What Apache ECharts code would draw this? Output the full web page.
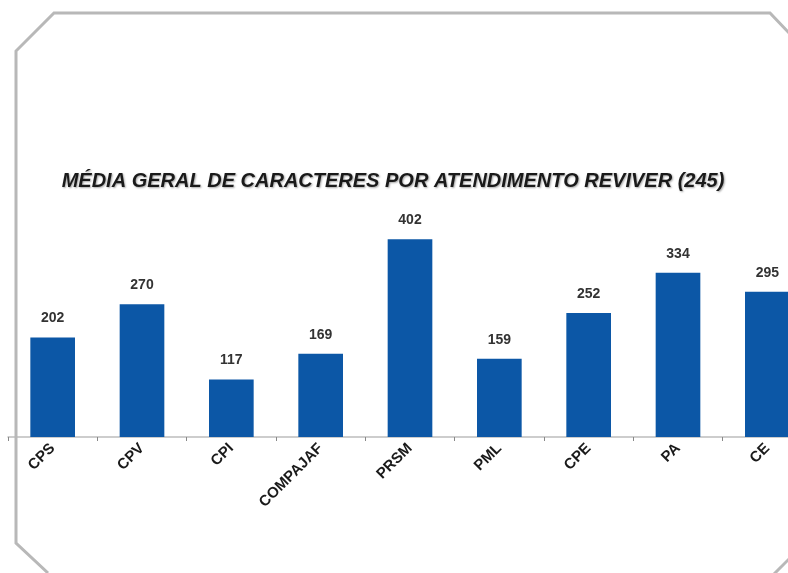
<!DOCTYPE html>
<html><head><meta charset="utf-8">
<script src="https://cdn.jsdelivr.net/npm/echarts@6/dist/echarts.min.js"></script>
<style>html,body{margin:0;padding:0;background:#fff}#c{width:788px;height:573px}</style>
</head><body><div id="c"></div>
<script>
const titleText = 'MÉDIA GERAL DE CARACTERES POR ATENDIMENTO REVIVER (245)';
const categories = ['CPS','CPV','CPI','COMPAJAF','PRSM','PML','CPE','PA','CE'];
const values = [202,270,117,169,402,159,252,334,295];

const chart = echarts.init(document.getElementById('c'), null, {renderer:'canvas'});
chart.setOption({
  animation:false,
  backgroundColor:'#fff',
  title:{
    text:titleText, left:388, top:166, textAlign:'center',
    textStyle:{fontFamily:'Liberation Sans', fontWeight:'bold', fontStyle:'italic', fontSize:20, color:'#1a1a1a',
      textShadowColor:'rgba(0,0,0,0.35)', textShadowBlur:2, textShadowOffsetX:1, textShadowOffsetY:1}
  },
  graphic:[{
    type:'polyline', silent:true, z:100,
    shape:{points:[[48,573],[16,543],[16,51],[54,13],[770,13],[790,34]]},
    style:{stroke:'#b8b8b8', lineWidth:3, fill:null}
  },{
    type:'polyline', silent:true, z:100,
    shape:{points:[[790,558],[774,574]]},
    style:{stroke:'#b8b8b8', lineWidth:3, fill:null}
  }],
  grid:{left:8, width:804, top:191, height:246, containLabel:false, outerBoundsMode:'none'},
  xAxis:{
    type:'category', data:categories, boundaryGap:true,
    axisLine:{lineStyle:{color:'#bdbdbd', width:1.5}},
    axisTick:{show:true, length:4, lineStyle:{color:'#888'}},
    axisLabel:{rotate:45, margin:9, interval:0, fontFamily:'Liberation Sans', fontWeight:'bold', fontSize:15, color:'#1a1a1a'}
  },
  yAxis:{type:'value', min:0, max:500, show:false, splitLine:{show:false}},
  series:[{
    type:'bar', data:values, barWidth:'50%',
    itemStyle:{color:'#0c57a6'},
    label:{show:true, position:'top', distance:12, fontFamily:'Liberation Sans', fontWeight:'bold', fontSize:14, color:'#333'}
  }]
});
</script></body></html>
